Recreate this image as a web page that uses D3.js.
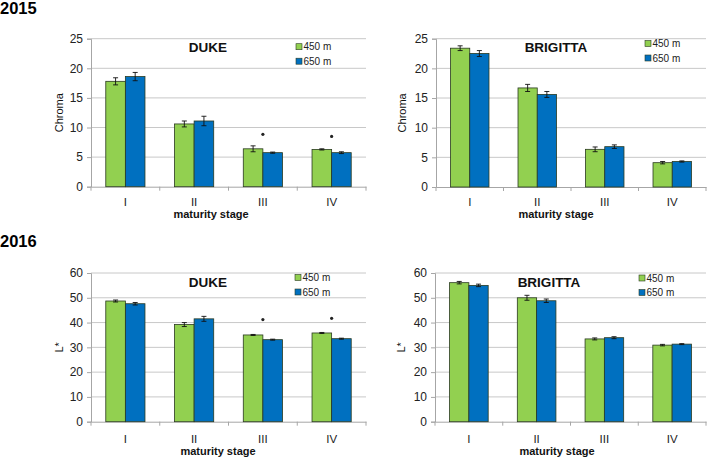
<!DOCTYPE html>
<html><head><meta charset="utf-8">
<script src="https://cdn.jsdelivr.net/npm/d3@7"></script>
<style>body{margin:0;background:#fff}svg{display:block;font-family:"Liberation Sans",Arial,sans-serif}</style>
</head><body>
<svg id="c" width="708" height="459"></svg>
<script>
const stages = ["I","II","III","IV"];
const series = ["450 m","650 m"];
const colors = ["#92D050","#0070C0"];
// 2015 Chroma
const dukeChroma450 = [17.8, 10.6, 6.4, 6.3];
const dukeChroma650 = [18.6, 11.1, 5.75, 5.75];
const dukeChromaErr450 = [0.6, 0.5, 0.5, 0.1];
const dukeChromaErr650 = [0.7, 0.8, 0.1, 0.15];
const brigChroma450 = [23.4, 16.7, 6.35, 4.1];
const brigChroma650 = [22.5, 15.6, 6.8, 4.3];
const brigChromaErr450 = [0.4, 0.6, 0.4, 0.2];
const brigChromaErr650 = [0.5, 0.5, 0.3, 0.1];
// 2016 L*
const dukeL450 = [48.7, 39.2, 35.0, 35.8];
const dukeL650 = [47.6, 41.5, 33.1, 33.5];
const dukeLErr450 = [0.4, 0.8, 0.2, 0.2];
const dukeLErr650 = [0.5, 1.0, 0.2, 0.2];
const brigL450 = [56.1, 50.0, 33.4, 30.9];
const brigL650 = [55.0, 48.8, 33.9, 31.3];
const brigLErr450 = [0.5, 1.0, 0.4, 0.3];
const brigLErr650 = [0.5, 0.7, 0.4, 0.2];
// significance markers (stage, height)
const dukeChromaStars = [["III", 8.85], ["IV", 8.5]];
const dukeLStars = [["III", 41.2], ["IV", 41.7]];
const chromaTicks = [0,5,10,15,20,25];
const lTicks = [0,10,20,30,40,50,60];

const svg = d3.select("#c");

svg.append("text").attr("x",0).attr("y",14).attr("font-size",16.5).attr("font-weight","bold").text("2015");
svg.append("text").attr("x",0).attr("y",247).attr("font-size",16.5).attr("font-weight","bold").text("2016");

const panels = [
  {x0:91,x1:366,yTop:38.7,yBot:186.7,max:25,ticks:chromaTicks,ylab:"Chroma",ylabX:59,title:"DUKE",titleX:208,titleY:52,
   legX:296,legY:46.7,labX:211,tickLabY:206,axLabY:218,
   v:[dukeChroma450,dukeChroma650],e:[dukeChromaErr450,dukeChromaErr650],stars:dukeChromaStars},
  {x0:436,x1:706,yTop:38.7,yBot:187,max:25,ticks:chromaTicks,ylab:"Chroma",ylabX:402,title:"BRIGITTA",titleX:556,titleY:52,
   legX:645,legY:43.5,labX:556,tickLabY:206,axLabY:218,
   v:[brigChroma450,brigChroma650],e:[brigChromaErr450,brigChromaErr650],stars:[]},
  {x0:91,x1:366,yTop:273,yBot:421.7,max:60,ticks:lTicks,ylab:"L*",ylabX:59,title:"DUKE",titleX:208,titleY:287,
   legX:295,legY:277.5,labX:218,tickLabY:443,axLabY:455,
   v:[dukeL450,dukeL650],e:[dukeLErr450,dukeLErr650],stars:dukeLStars},
  {x0:435,x1:706,yTop:273,yBot:421.7,max:60,ticks:lTicks,ylab:"L*",ylabX:401,title:"BRIGITTA",titleX:549,titleY:287,
   legX:639,legY:278,labX:557,tickLabY:443,axLabY:455,
   v:[brigL450,brigL650],e:[brigLErr450,brigLErr650],stars:[]}
];

panels.forEach(p => {
  const g = svg.append("g");
  const y = d3.scaleLinear().domain([0,p.max]).range([p.yBot,p.yTop]);
  const x = d3.scaleBand().domain(stages).range([p.x0,p.x1]).padding(0);
  const bw = x.bandwidth();
  const xs = d3.scaleBand().domain(series).range([bw*0.215,bw*0.785]).padding(0);

  // gridlines
  g.append("g").selectAll("line").data(p.ticks.filter(t=>t>0)).join("line")
    .attr("x1",p.x0).attr("x2",p.x1).attr("y1",d=>y(d)).attr("y2",d=>y(d))
    .attr("stroke","#c8c8c8").attr("stroke-width",1);

  // y axis
  const ya = g.append("g").attr("transform",`translate(${p.x0},0)`)
    .call(d3.axisLeft(y).tickValues(p.ticks).tickSize(4).tickPadding(4));
  ya.select(".domain").attr("stroke","#a6a6a6");
  ya.selectAll(".tick line").attr("stroke","#a6a6a6");
  ya.selectAll("text").attr("font-size",12).attr("fill","#222").attr("font-family","Liberation Sans, Arial, sans-serif");

  // x axis
  const xa = g.append("g").attr("transform",`translate(0,${p.yBot})`)
    .call(d3.axisBottom(x).tickSize(0).tickFormat(""));
  xa.select(".domain").attr("stroke","#a6a6a6");
  g.append("g").selectAll("line").data(d3.range(stages.length+1)).join("line")
    .attr("x1",i=>p.x0+i*bw).attr("x2",i=>p.x0+i*bw)
    .attr("y1",p.yBot).attr("y2",p.yBot+4).attr("stroke","#a6a6a6");
  g.append("g").selectAll("text").data(stages).join("text")
    .attr("x",d=>x(d)+bw/2).attr("y",p.tickLabY).attr("text-anchor","middle")
    .attr("font-size",11.5).attr("fill","#222").text(d=>d);

  // bars
  series.forEach((s,si) => {
    const gg = g.append("g");
    gg.selectAll("rect").data(stages).join("rect")
      .attr("x",(d)=>x(d)+xs(s)).attr("width",xs.bandwidth())
      .attr("y",(d,i)=>y(p.v[si][i])).attr("height",(d,i)=>y(0)-y(p.v[si][i]))
      .attr("fill",colors[si]).attr("stroke","#2a3a20").attr("stroke-width",0.8);
    // error bars
    const cx = d=>x(d)+xs(s)+xs.bandwidth()/2;
    gg.append("g").selectAll("line").data(stages).join("line")
      .attr("x1",cx).attr("x2",cx)
      .attr("y1",(d,i)=>y(p.v[si][i]+p.e[si][i])).attr("y2",(d,i)=>y(p.v[si][i]-p.e[si][i]))
      .attr("stroke","#111").attr("stroke-width",0.9);
    [1,-1].forEach(sign=>{
      gg.append("g").selectAll("line").data(stages).join("line")
        .attr("x1",d=>cx(d)-2.5).attr("x2",d=>cx(d)+2.5)
        .attr("y1",(d,i)=>y(p.v[si][i]+sign*p.e[si][i]))
        .attr("y2",(d,i)=>y(p.v[si][i]+sign*p.e[si][i]))
        .attr("stroke","#111").attr("stroke-width",0.9);
    });
  });

  // stars
  g.append("g").selectAll("circle").data(p.stars).join("circle")
    .attr("cx",d=>x(d[0])+bw/2).attr("cy",d=>y(d[1])).attr("r",1.6).attr("fill","#222");

  // title
  g.append("text").attr("x",p.titleX).attr("y",p.titleY).attr("text-anchor","middle")
    .attr("font-size",13.5).attr("font-weight","bold").attr("fill","#111").text(p.title);

  // legend
  series.forEach((s,si)=>{
    const ly = p.legY + si*14.5;
    g.append("rect").attr("x",p.legX).attr("y",ly-3).attr("width",6).attr("height",6)
      .attr("fill",colors[si]).attr("stroke","#2a3a20").attr("stroke-width",0.6);
    g.append("text").attr("x",p.legX+7.5).attr("y",ly+3.5).attr("font-size",10).attr("fill","#222").text(s);
  });

  // axis labels
  g.append("text").attr("transform",`translate(${p.ylabX+4},${(p.yTop+p.yBot)/2}) rotate(-90)`)
    .attr("text-anchor","middle").attr("font-size",11).attr("fill","#111").text(p.ylab);
  g.append("text").attr("x",p.labX).attr("y",p.axLabY).attr("text-anchor","middle")
    .attr("font-size",11).attr("font-weight","bold").attr("fill","#111").text("maturity stage");
});
</script>
</body></html>
